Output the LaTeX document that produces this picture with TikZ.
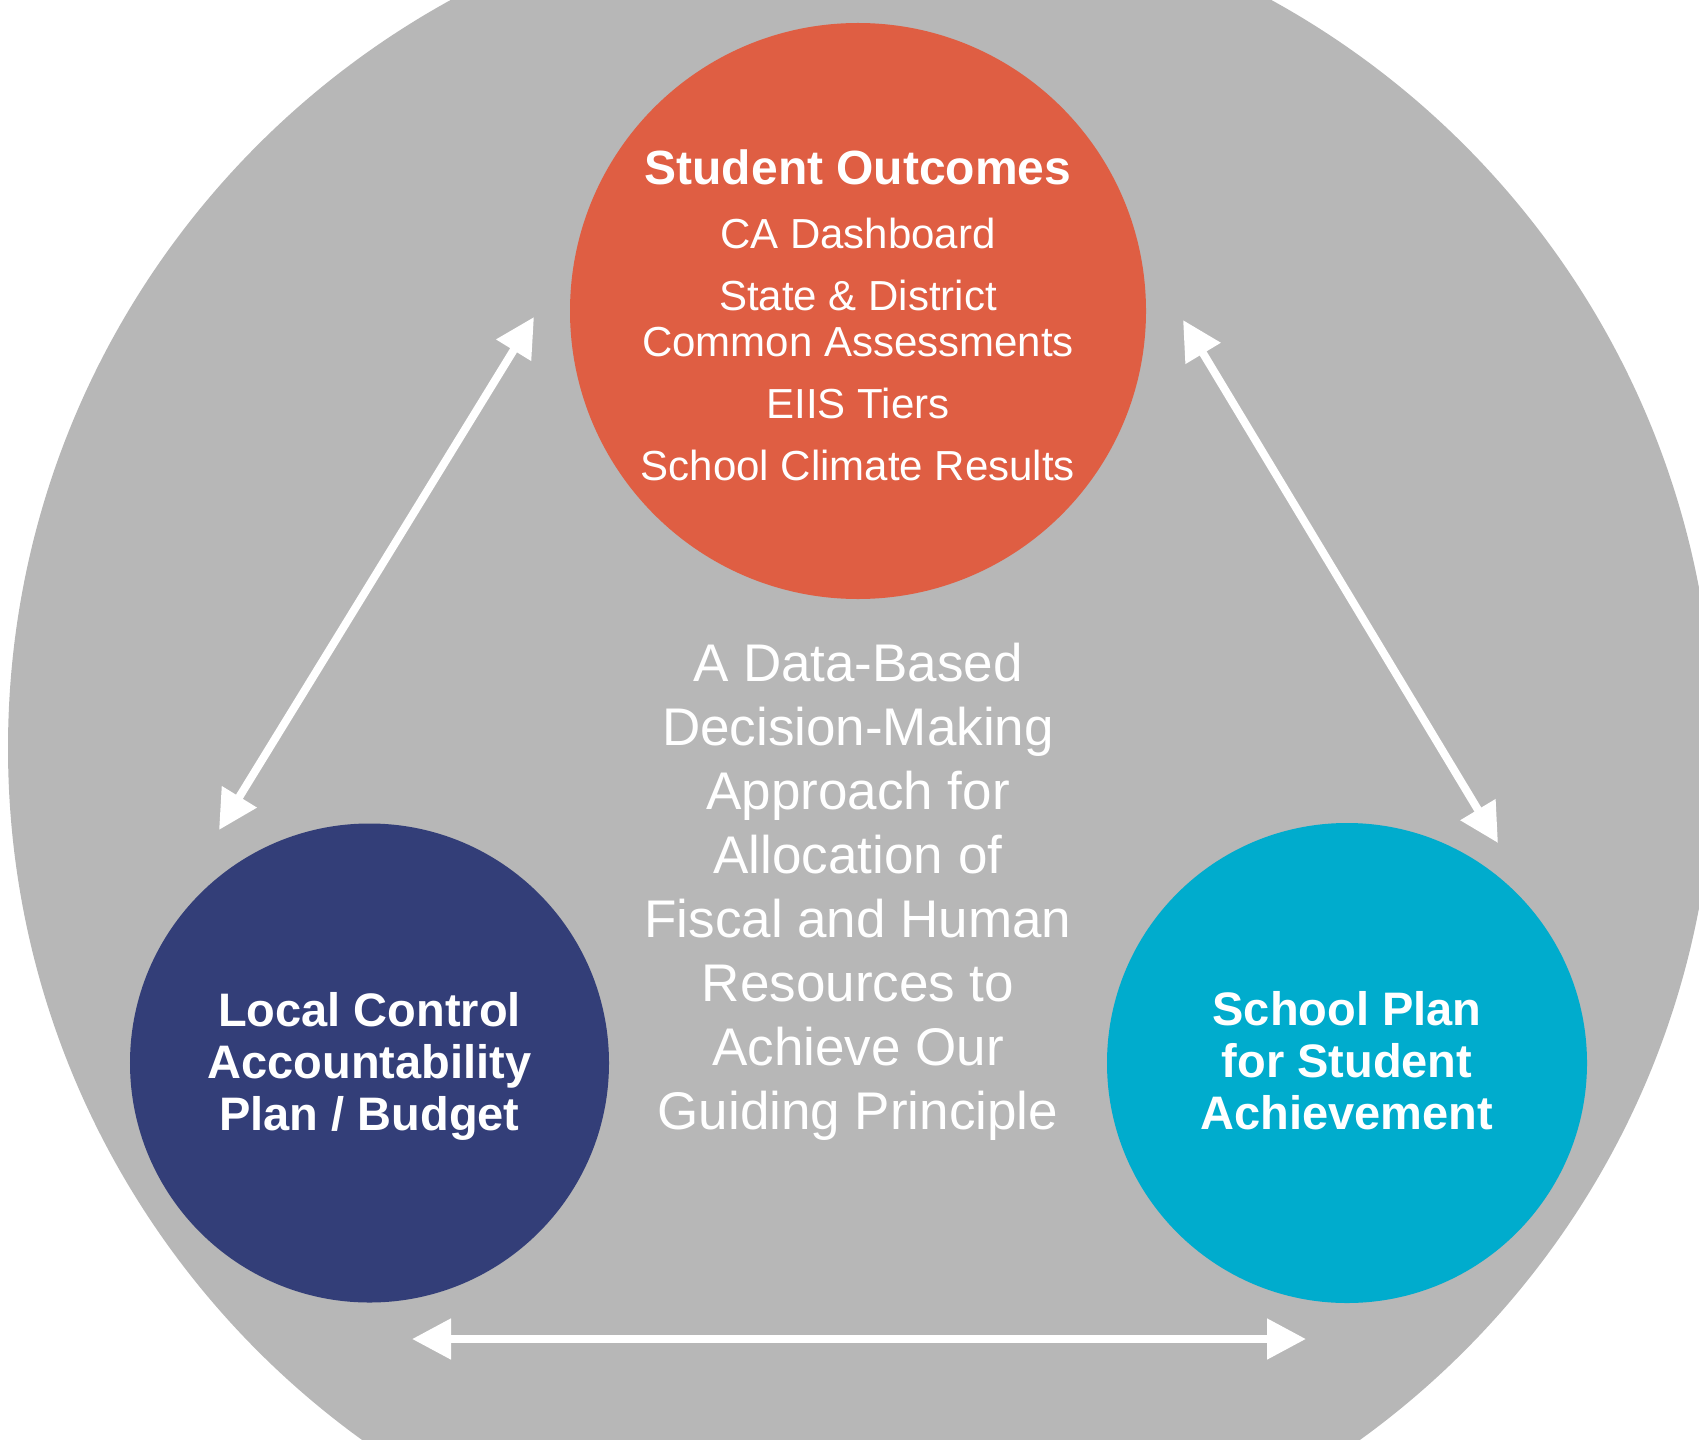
\documentclass[tikz,border=0pt]{standalone}
\usepackage{fontspec}
\setmainfont{Liberation Sans}
\usetikzlibrary{arrows.meta}
\definecolor{bggray}{HTML}{B7B7B7}
\definecolor{outorange}{HTML}{DF5E43}
\definecolor{lcapnavy}{HTML}{333E78}
\definecolor{spsacyan}{HTML}{00ACCD}
\begin{document}
\begin{tikzpicture}[x=1bp,y=-1bp,
  disc/.style={circle, inner sep=0pt},
  lbl/.style={inner sep=0pt, text=white, align=center},
  bigtip/.tip={Triangle[length=39bp,width=39bp]},
  link/.style={draw=white, line width=8bp, bigtip-bigtip},
  boldlabel/.style={lbl, font=\fontsize{47bp}{52bp}\selectfont\bfseries},
]
\useasboundingbox (0,0) rectangle (1699,1440);
\begin{scope}
  \clip (0,0) rectangle (1699,1440);
  \fill[bggray] (861,748) circle[radius=853];
\end{scope}

\node[disc, fill=outorange, minimum size=576bp] (outcomes) at (858,311) {};
\node[lbl, font=\fontsize{42bp}{46bp}\selectfont, yshift=-4.5bp] (outcomestext) at (outcomes.center)
  {{\fontsize{48bp}{46bp}\selectfont\bfseries Student Outcomes}\\[18bp]
   CA Dashboard\\[16bp]
   State \& District\\
   Common Assessments\\[16bp]
   EIIS Tiers\\[16bp]
   School Climate Results};

\node[disc, fill=lcapnavy, minimum size=479bp] (lcap) at (369.5,1063) {};
\node[boldlabel, yshift=-3.5bp] (lcaptext) at (lcap.center)
  {Local Control\\Accountability\\Plan / Budget};

\node[disc, fill=spsacyan, minimum size=480bp] (spsa) at (1347,1063) {};
\node[boldlabel, yshift=2bp] (spsatext) at (spsa.center)
  {School Plan\\for Student\\Achievement};

\node[lbl, font=\fontsize{53bp}{64bp}\selectfont] (approach) at (858,891.5)
  {A Data-Based\\Decision-Making\\Approach for\\Allocation of\\Fiscal and Human\\Resources to\\Achieve Our\\Guiding Principle};

\coordinate (lt) at (534,317);
\coordinate (lb) at (219,830);
\coordinate (rt) at (1183,320);
\coordinate (rb) at (1498,843);
\coordinate (bl) at (412,1339);
\coordinate (br) at (1306,1339);

\draw[link] (lt) -- (lb);
\draw[link] (rt) -- (rb);
\draw[link] (bl) -- (br);
\end{tikzpicture}
\end{document}
